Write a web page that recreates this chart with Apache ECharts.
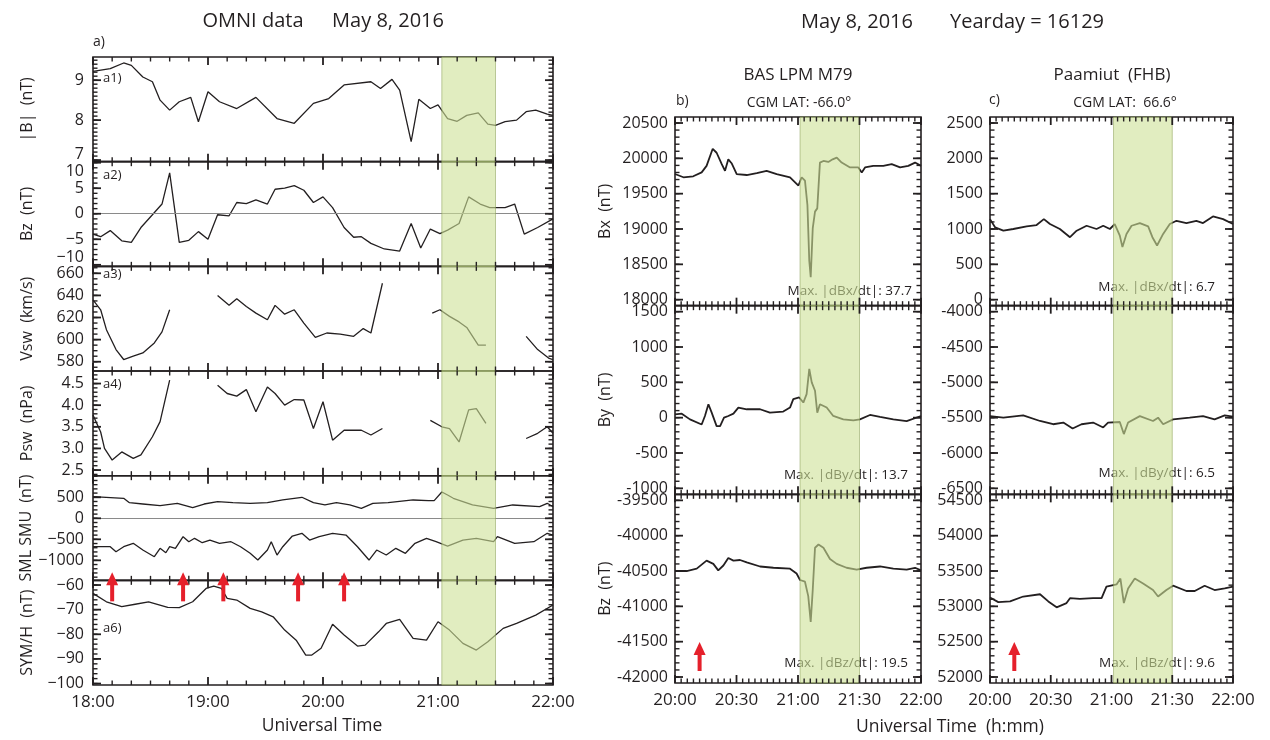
<!DOCTYPE html>
<html><head><meta charset="utf-8">
<script src="https://cdn.jsdelivr.net/npm/echarts@6/dist/echarts.min.js"></script>
<style>html,body{margin:0;padding:0;background:#fff}#c{width:1270px;height:740px}</style>
</head><body><div id="c"></div>
<script>
// ================= DATA =================
// OMNI panel: time in minutes after 18:00 UT; magnetometers: minutes after 20:00 UT
const omniTickLabels = ['18:00','19:00','20:00','21:00','22:00'];
const magTickLabels  = ['20:00','20:30','21:00','21:30','22:00'];

const omniB_t = [0,9,16,20,26,31,35,40,45,51,55,60,66,75,85,96,105,115,123,131,145,150,156,160,166,170,176,180,185,190,195,201,206,210,215,221,226,231,237,240];
const omniB_v = [9.22,9.29,9.43,9.37,9.08,8.96,8.5,8.25,8.46,8.57,7.96,8.71,8.46,8.29,8.57,8.04,7.92,8.42,8.54,8.88,8.96,8.79,9.02,8.75,7.46,8.52,8.29,8.38,8.04,7.97,8.12,8.18,7.9,7.87,7.96,8.0,8.21,8.25,8.15,8.12];
const omniBz_t = [0,4,9,15,20,25,31,36,40,45,50,55,60,65,71,75,80,85,91,95,100,105,110,115,120,125,131,136,140,145,152,160,166,171,176,181,185,191,196,202,207,215,220,225,232,240];
const omniBz_v = [-4.0,-4.5,-3.3,-5.3,-5.6,-2.7,-0.2,1.9,8.0,-5.6,-5.2,-3.5,-5.0,-0.2,-0.4,2.2,2.0,2.7,1.9,4.8,5.0,5.5,4.6,2.2,3.3,1.2,-2.7,-4.6,-4.5,-5.8,-6.9,-7.3,-1.9,-6.7,-3.0,-3.9,-3.2,-1.9,3.3,1.9,1.2,1.2,1.9,-4.0,-2.7,-1.0];
const vsw1_t = [0,4,7,12,16,21,26,32,36,40];
const vsw1_v = [636,627,609,591,582,585,588,597,607,627];
const vsw2_t = [65,71,75,80,85,91,95,100,105,110,116,122,129,136,141,145,151];
const vsw2_v = [640,631,637,630,624,618,631,623,627,615,602,606,605,603,610,606,651];
const vsw3_t = [177,181,186,191,195,201,205];
const vsw3_v = [624,627,621,616,611,595,595];
const vsw4_t = [226,232,238,240];
const vsw4_v = [603,591,583,582];
const psw1_t = [0,4,6,10,15,21,25,31,35,40];
const psw1_v = [3.77,3.38,3.0,2.73,2.92,2.77,2.85,3.27,3.62,4.58];
const psw2_t = [65,70,75,80,85,91,95,100,105,110,115,120,125,131,140,145,151];
const psw2_v = [4.46,4.27,4.21,4.36,3.85,4.42,4.27,4.0,4.13,4.12,3.46,4.08,3.19,3.42,3.42,3.31,3.46];
const psw3_t = [176,182,186,191,196,200,205];
const psw3_v = [3.65,3.5,3.46,3.15,3.89,3.92,3.58];
const psw4_t = [226,232,237,240];
const psw4_v = [3.23,3.35,3.5,3.35];
const smu_t = [0,16,19,26,35,44,52,58,65,73,82,91,99,109,115,121,127,134,140,146,154,167,175,178,182,185,188,198,209,219,233,237,240];
const smu_v = [514,476,371,340,300,357,252,340,395,371,357,371,436,500,371,317,371,317,238,357,371,436,419,419,625,555,476,317,238,317,276,357,276];
const sml_t = [0,9,12,16,21,26,32,35,38,40,43,47,50,53,57,61,66,72,77,82,86,91,93,96,99,104,109,113,118,125,132,138,144,148,153,158,163,168,174,179,185,193,200,209,211,220,230,237,240];
const sml_v = [-676,-676,-795,-676,-595,-755,-914,-714,-819,-676,-714,-438,-557,-476,-581,-517,-595,-557,-676,-833,-993,-755,-557,-874,-676,-421,-357,-517,-438,-357,-398,-676,-993,-755,-874,-714,-833,-595,-476,-557,-660,-517,-476,-557,-438,-595,-557,-357,-398];
const symh_t = [0,7,15,22,29,39,45,52,59,63,67,70,75,82,88,94,100,106,111,114,119,125,131,138,142,149,153,160,167,174,180,186,193,200,206,214,221,231,240];
const symh_v = [-63.4,-66.8,-68.8,-67.8,-66.8,-69.1,-69.2,-66.8,-61.4,-60.4,-61.4,-65.4,-66.1,-69.5,-70.9,-72.9,-78.3,-82.4,-88.5,-88.5,-85.7,-75.9,-80.3,-84.8,-84.4,-79.0,-75.6,-73.9,-81.7,-82.4,-74.9,-78.3,-83.7,-86.4,-83.0,-77.6,-75.6,-72.2,-68.1];
const lpmBx_t = [0,4.1,8.9,13,15.4,18.4,20.3,22.8,24.4,26,27.6,30.1,35,39.9,44.7,49.6,56.1,60.2,61.8,63.4,64.6,65.5,66.2,67.2,68.3,69.4,70.7,72.4,74.8,76.9,78.9,81.3,85.4,89.4,91.1,92.7,96.7,101.6,105.7,109.8,113.8,117.1,120];
const lpmBx_v = [19778,19732,19746,19801,19893,20135,20079,19917,19824,19986,19931,19778,19764,19792,19824,19778,19732,19615,19732,19685,19337,18551,18319,19014,19246,19292,19940,19963,19949,19986,20010,19940,19871,19871,19801,19871,19893,19893,19917,19871,19893,19940,19893];
const lpmBy_t = [0,3.3,7.3,13,14.6,16.3,17.9,20.3,22,23.9,26,28.5,30.9,35,41.5,46.3,52.8,56.1,57.7,60.6,62.6,64.2,65.5,66.7,67.5,68.3,69.4,70.7,74,77.2,82.1,87,90.2,95.1,100,106.5,113,120];
const lpmBy_v = [48,57,-24,-96,24,190,71,-119,-119,0,24,57,143,119,119,71,86,143,262,286,214,333,690,500,476,381,71,190,143,24,-24,-38,-24,38,10,-24,-48,24];
const lpmBz_t = [0,5.7,10.6,15.4,18.7,21.1,23.6,26,28.5,31.7,35,41.5,48,56.1,59.3,61,63.4,65,66.2,67.2,68.3,70,72.4,75.6,78.9,83.7,88.6,93.5,100,106.5,113,117.1,120];
const lpmBz_v = [-40500,-40500,-40467,-40353,-40399,-40491,-40422,-40316,-40353,-40344,-40377,-40436,-40454,-40467,-40536,-40627,-40651,-40856,-41221,-40764,-40171,-40125,-40171,-40330,-40399,-40454,-40481,-40454,-40436,-40467,-40481,-40454,-40491];
const fhbBx_t = [0,2.5,6.6,11.5,18.1,23,26.6,29.6,34.5,39.5,42.8,47.7,52.6,55.9,59.2,61.6,64.1,65.4,67.4,69.9,74,78.1,80.2,82.5,85.5,88.8,92.1,97,101.9,105.2,110.1,115.1,120];
const fhbBx_v = [1140,1024,976,1000,1038,1056,1140,1070,1000,884,976,1046,1000,1046,1000,1070,906,744,930,1046,1084,1038,884,766,930,1070,1116,1084,1116,1084,1178,1140,1070];
const fhbBy_t = [0,6.6,16.4,24.7,31.2,36.2,40.8,45.2,50.9,55.9,58.3,64.1,66.1,68.2,74,80.5,83,85.5,90.4,98.6,105.2,110.9,115.9,120];
const fhbBy_v = [-5478,-5500,-5468,-5547,-5593,-5569,-5653,-5593,-5569,-5639,-5569,-5561,-5732,-5569,-5478,-5547,-5500,-5593,-5524,-5500,-5478,-5524,-5468,-5486];
const fhbBz_t = [0,4.1,9.9,16.4,24.7,28.8,32.9,37.8,39.5,44.4,50.9,55.1,57.5,62.5,64.4,66.1,68.2,71.5,75.6,80.5,83,87.1,90.4,97,101.1,106,110.9,115.9,120];
const fhbBz_v = [53125,53060,53070,53139,53171,53070,52986,53046,53115,53106,53115,53115,53278,53310,53393,53046,53254,53393,53324,53231,53139,53231,53292,53217,53217,53292,53231,53254,53278];

// Y tick values
const bTicks = [7,8,9];
const bzTicks = [-10,-5,0,5,10];
const vswTicks = [580,600,620,640,660];
const pswTicks = [2.5,3.0,3.5,4.0,4.5];
const smTicks = [-1000,-500,0,500];
const symhTicks = [-100,-90,-80,-70,-60];
const lpmBxTicks = [18000,18500,19000,19500,20000,20500];
const lpmByTicks = [-1000,-500,0,500,1000,1500];
const lpmBzTicks = [-42000,-41500,-41000,-40500,-40000,-39500];
const fhbBxTicks = [0,500,1000,1500,2000,2500];
const fhbByTicks = [-6500,-6000,-5500,-5000,-4500,-4000];
const fhbBzTicks = [52000,52500,53000,53500,54000,54500];

// Shaded interval and event arrows
const omniBand = [182, 210];
const magBand = [61, 90];
const omniArrows = [10, 47, 68, 107, 131];
const magArrows = [12];

// ================= STYLE / LAYOUT =================
const FONT = '"Open Sans", "DejaVu Sans", sans-serif';
const INK = '#231f20';
const RED = '#e5202b';
const zip = (t, v) => t.map((x, i) => [x, v[i]]);
const minusStr = v => (v < 0 ? '\u2212' + Math.abs(v) : String(v));

const option = {
  animation: false,
  backgroundColor: '#fff',
  textStyle: { fontFamily: FONT },
  grid: [], xAxis: [], yAxis: [], series: [],
  graphic: { elements: [] }
};

function addPanel(p) {
  const gi = option.grid.length;
  option.grid.push({ left: p.x, top: p.y, width: p.w, height: p.h, containLabel: false, outerBoundsMode: 'none',
    show: true, borderColor: INK, borderWidth: 1.6, backgroundColor: 'transparent' });
  const xi = option.xAxis.length;
  option.xAxis.push({
    gridIndex: gi, type: 'value', position: 'bottom', min: p.xr[0], max: p.xr[1], interval: p.xr[2],
    splitLine: { show: false }, axisLine: { show: false, onZero: false },
    axisTick: { show: false }, minorTick: { show: false },
    axisLabel: p.xLabels ? { show: true, fontSize: 17, color: INK, margin: 9,
      formatter: v => p.xLabels[Math.round(v / p.xr[2])] } : { show: false }
  });

  const yi = option.yAxis.length;
  const minors = [];
  for (let k = Math.ceil(p.min / p.minor - 1e-9); k * p.minor <= p.max + 1e-9; k++) minors.push(+(k * p.minor).toFixed(6));
  const labelVals = p.labelAt || p.ticks;
  const labelText = v => {
    let best = 0;
    labelVals.forEach((lv, i) => { if (Math.abs(lv - v) < Math.abs(labelVals[best] - v)) best = i; });
    return p.fmt(p.ticks[best]);
  };
  option.yAxis.push({
    gridIndex: gi, type: 'value', min: p.min, max: p.max, splitLine: { show: false },
    position: 'left', axisLine: { show: false, onZero: false }, axisTick: { show: false },
    axisLabel: { show: true, customValues: labelVals, formatter: labelText, fontSize: 16, color: INK, margin: p.labelMargin },
    name: p.name || '', nameLocation: 'middle', nameGap: p.nameGap, nameRotate: 90,
    nameTextStyle: { fontSize: 16, color: INK }
  });

  p.series.forEach((s, k) => {
    const ser = {
      type: 'line', xAxisIndex: xi, yAxisIndex: yi, data: zip(s[0], s[1]),
      showSymbol: false, symbol: 'none', z: 3, clip: true,
      lineStyle: { color: INK, width: p.lw }
    };
    if (p.zero && k === 0) {
      ser.markLine = { silent: true, symbol: 'none', label: { show: false }, animation: false,
        lineStyle: { color: '#8a8a8a', width: 1, type: 'solid' }, data: [{ yAxis: 0 }] };
    }
    option.series.push(ser);
  });

  // Shaded interval plus the tick marks on all four sides, drawn through the axis scales
  const xStep = p.xr[2] / p.xr[3];
  option.series.push({
    type: 'custom', xAxisIndex: xi, yAxisIndex: yi, z: 10, silent: true,
    data: [[p.band[0], p.band[1]]],
    renderItem(params, api) {
      const cs = params.coordSys;
      const a = api.coord([api.value(0), p.min])[0];
      const b = api.coord([api.value(1), p.min])[0];
      const T = cs.y, B = cs.y + cs.height;
      const Lx = api.coord([p.xr[0], p.min])[0], Rx = api.coord([p.xr[1], p.min])[0];
      const kids = [{ type: 'rect', shape: { x: a, y: T, width: b - a, height: cs.height },
        style: { fill: 'rgba(205,225,150,0.6)', stroke: 'rgba(140,160,90,0.55)', lineWidth: 1 } }];
      const box = (x, y, w, h) => { kids.push({ type: 'rect', shape: { x: x, y: y, width: w, height: h }, style: { fill: INK } }); };
      for (let k = 0; p.xr[0] + k * xStep <= p.xr[1] + 1e-9; k++) {
        const major = k % p.xr[3] === 0;
        const x = api.coord([p.xr[0] + k * xStep, p.min])[0];
        const len = major ? 8 : 4.5, w = major ? 1.8 : 1.4;
        box(x - w / 2, B - len, w, len);
        box(x - w / 2, T, w, len);
      }
      minors.forEach(v => {
        const y = api.coord([p.xr[0], v])[1];
        box(Lx, y - 0.7, 4.5, 1.4); box(Rx - 4.5, y - 0.7, 4.5, 1.4);
      });
      p.ticks.forEach(v => {
        const y = api.coord([p.xr[0], v])[1];
        box(Lx, y - 0.9, 8, 1.8); box(Rx - 8, y - 0.9, 8, 1.8);
      });
      return { type: 'group', children: kids };
    }
  });

  if (p.arrows) {
    option.series.push({
      type: 'custom', xAxisIndex: xi, yAxisIndex: yi, z: 12, silent: true,
      data: p.arrows.map(t => [t, p.min]),
      renderItem(params, api) {
        const cs = params.coordSys;
        const x = api.coord([api.value(0), p.min])[0];
        const tip = p.arrowAt === 'top' ? cs.y - 8 : cs.y + cs.height - 41;
        const len = 29;
        return { type: 'group', children: [
          { type: 'rect', shape: { x: x - 2, y: tip + 10, width: 4, height: len - 10 }, style: { fill: RED } },
          { type: 'polygon', shape: { points: [[x, tip], [x - 6, tip + 13], [x + 6, tip + 13]] }, style: { fill: RED } }
        ] };
      }
    });
  }
}

// ---------- left OMNI column ----------
const L = { x: 93, w: 460, top: 57, h: 104.67 };
const omniX = [0, 240, 60, 6];
const leftPanels = [
  { name: '|B|  (nT)', min: 6.96, max: 9.58, ticks: bTicks, labelAt: [7.15, 8, 9], minor: 0.1, fmt: minusStr,
    series: [[omniB_t, omniB_v]] },
  { name: 'Bz  (nT)', min: -10.3, max: 10.2, ticks: bzTicks, labelAt: [-8.5, -5, 0, 5, 8.2], minor: 1, fmt: minusStr, zero: true,
    series: [[omniBz_t, omniBz_v]] },
  { name: 'Vsw  (km/s)', min: 571.6, max: 666.3, ticks: vswTicks, minor: 5, fmt: minusStr,
    series: [[vsw1_t, vsw1_v], [vsw2_t, vsw2_v], [vsw3_t, vsw3_v], [vsw4_t, vsw4_v]] },
  { name: 'Psw  (nPa)', min: 2.37, max: 4.79, ticks: pswTicks, minor: 0.1, fmt: v => v.toFixed(1),
    series: [[psw1_t, psw1_v], [psw2_t, psw2_v], [psw3_t, psw3_v], [psw4_t, psw4_v]] },
  { name: 'SML SMU  (nT)', min: -1476, max: 1014, ticks: smTicks, minor: 100, fmt: minusStr, zero: true,
    series: [[smu_t, smu_v], [sml_t, sml_v]] },
  { name: 'SYM/H  (nT)', min: -100.6, max: -58.1, ticks: symhTicks, minor: 2, fmt: minusStr,
    series: [[symh_t, symh_v]], arrows: omniArrows, arrowAt: 'top', xLabels: omniTickLabels }
];
leftPanels.forEach((p, i) => addPanel(Object.assign({
  x: L.x, w: L.w, y: L.top + i * L.h, h: L.h, xr: omniX, band: omniBand,
  nameGap: 58, labelMargin: 9, lw: 1.3
}, p)));

// ---------- right magnetometer columns ----------
const R = { top: 117, h: 188.67 };
const magX = [0, 120, 30, 10];
const rfmt = v => String(v);
const cols = [
  { x: 675, w: 246, names: ['Bx  (nT)', 'By  (nT)', 'Bz  (nT)'],
    sets: [[lpmBx_t, lpmBx_v, lpmBxTicks], [lpmBy_t, lpmBy_v, lpmByTicks], [lpmBz_t, lpmBz_v, lpmBzTicks]] },
  { x: 990, w: 243, names: ['', '', ''],
    sets: [[fhbBx_t, fhbBx_v, fhbBxTicks], [fhbBy_t, fhbBy_v, fhbByTicks], [fhbBz_t, fhbBz_v, fhbBzTicks]] }
];
cols.forEach(c => c.sets.forEach((s, i) => {
  const tk = s[2];
  addPanel({
    x: c.x, w: c.w, y: R.top + i * R.h, h: R.h, xr: magX, band: magBand,
    name: c.names[i], nameGap: 62, labelMargin: 7, lw: 1.8,
    min: tk[0] - 85, max: tk[tk.length - 1] + 85, ticks: tk, minor: 100, fmt: rfmt,
    series: [[s[0], s[1]]],
    arrows: i === 2 ? magArrows : null, arrowAt: 'bottom',
    xLabels: i === 2 ? magTickLabels : null
  });
}));

// ---------- texts ----------
function txt(x, y, s, size, align) {
  return { type: 'text', x: x, y: y, z: 1, silent: true,
    style: { text: s, font: size + 'px ' + FONT, fill: INK, align: align || 'center', textAlign: align || 'center',
      verticalAlign: 'middle', textVerticalAlign: 'middle' } };
}
const G = option.graphic.elements;
G.push(txt(253, 21, 'OMNI data', 20), txt(388, 21, 'May 8, 2016', 20));
G.push(txt(857, 22, 'May 8, 2016', 20), txt(1027, 22, 'Yearday = 16129', 20));
G.push(txt(93, 42, 'a)', 14, 'left'));
G.push(txt(798, 75, 'BAS LPM M79', 17), txt(1112, 75, 'Paamiut  (FHB)', 17));
G.push(txt(676, 101, 'b)', 14, 'left'), txt(989, 100, 'c)', 14, 'left'));
G.push(txt(799, 103, 'CGM LAT: -66.0\u00b0', 14), txt(1125, 103, 'CGM LAT:  66.6\u00b0', 14));
G.push(txt(103, 78, 'a1)', 13, 'left'), txt(103, 175, 'a2)', 13, 'left'), txt(103, 274, 'a3)', 13, 'left'),
       txt(103, 384, 'a4)', 13, 'left'), txt(103, 628, 'a6)', 13, 'left'));
G.push(txt(912, 291, 'Max. |dBx/dt|: 37.7', 13.5, 'right'),
       txt(908, 475, 'Max. |dBy/dt|: 13.7', 13.5, 'right'),
       txt(908, 663, 'Max. |dBz/dt|: 19.5', 13.5, 'right'),
       txt(1215, 287, 'Max. |dBx/dt|: 6.7', 13.5, 'right'),
       txt(1215, 473, 'Max. |dBy/dt|: 6.5', 13.5, 'right'),
       txt(1215, 663, 'Max. |dBz/dt|: 9.6', 13.5, 'right'));
G.push(txt(322, 726, 'Universal Time', 17.5), txt(950, 727, 'Universal Time  (h:mm)', 17.5));

const chart = echarts.init(document.getElementById('c'), null, { renderer: 'canvas' });
chart.setOption(option);
</script></body></html>
